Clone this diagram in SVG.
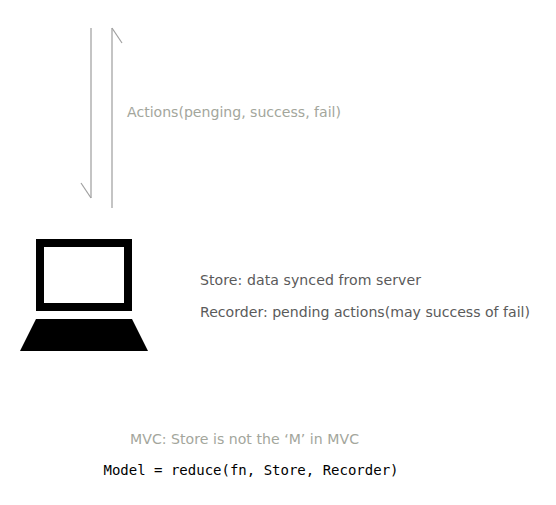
<svg xmlns="http://www.w3.org/2000/svg" width="556" height="505" viewBox="0 0 556 505">
<style>
.shaft{stroke:#c4c4c4;stroke-width:2;fill:none}
.barb{stroke:#a0a0a0;stroke-width:1.2;fill:none}
text{font-family:"DejaVu Sans",Verdana,sans-serif;font-size:14.1px}
.light{fill:#a3a69c}
.dark{fill:#5a5a5a}
.code{font-family:"DejaVu Sans Mono",monospace;font-size:14px;fill:#000}
</style>
<rect width="556" height="505" fill="#fff"/>
<g id="connectors">
<path class="shaft" d="M91 28V198"/>
<path class="barb" d="M91 198L81 183"/>
<path class="shaft" d="M112 28V208"/>
<path class="barb" d="M112 28L122 43"/>
</g>
<g id="actions-label"><text class="light" x="127" y="117" textLength="214">Actions(penging, success, fail)</text></g>
<g id="laptop">
<path fill="#000" fill-rule="evenodd" d="M36 239H132V311H36ZM44 247V303H124V247Z"/>
<path fill="#000" d="M36 319H132L148 351H20Z"/>
</g>
<g id="store-label"><text class="dark" x="200" y="285" textLength="221">Store: data synced from server</text></g>
<g id="recorder-label"><text class="dark" x="200" y="317" textLength="330">Recorder: pending actions(may success of fail)</text></g>
<g id="mvc-label"><text class="light" x="130" y="444" textLength="229">MVC: Store is not the ‘M’ in MVC</text></g>
<g id="model-label"><text class="code" x="103.5" y="475">Model = reduce(fn, Store, Recorder)</text></g>
</svg>
